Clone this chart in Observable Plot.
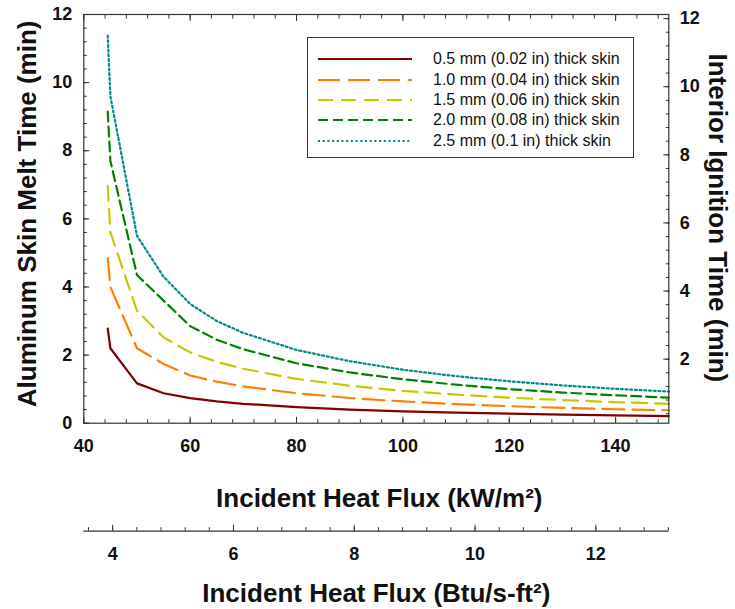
<!DOCTYPE html>
<html>
<head>
<meta charset="utf-8">
<script src="https://cdn.jsdelivr.net/npm/d3@7"></script>
<script src="https://cdn.jsdelivr.net/npm/@observablehq/plot@0.6"></script>
<style>
  body { margin: 0; background: #fff; font-family: "Liberation Sans", Arial, sans-serif; }
  #chart { position: relative; width: 735px; height: 609px; }
  .legend {
    position: absolute; left: 307px; top: 37px; width: 327px; height: 121px;
    box-sizing: border-box; border: 1px solid #333; background: #fff;
    padding-top: 11px;
  }
  .legend .row { display: flex; align-items: center; height: 20.4px; }
  .legend svg { margin-left: 10px; margin-right: 21px; flex: none; }
  .legend span { font-size: 16px; color: #111; white-space: nowrap; }
</style>
</head>
<body>
<div id="chart"></div>
<script>
// Incident heat flux (kW/m²) at which each curve is sampled
const flux = [44.5, 45, 50, 55, 60, 65, 70, 80, 90, 100, 110, 120, 130, 140, 150];

// Aluminum skin melt time (min) for each skin thickness
const skin05 = [2.78, 2.2, 1.17, 0.88, 0.735, 0.64, 0.57, 0.47, 0.4, 0.35, 0.31, 0.28, 0.25, 0.23, 0.21];
const skin10 = [4.85, 4.0, 2.2, 1.74, 1.4, 1.22, 1.08, 0.88, 0.74, 0.64, 0.56, 0.5, 0.45, 0.41, 0.38];
const skin15 = [6.97, 5.6, 3.3, 2.52, 2.08, 1.8, 1.6, 1.3, 1.1, 0.95, 0.84, 0.75, 0.68, 0.62, 0.57];
const skin20 = [9.15, 7.7, 4.35, 3.6, 2.85, 2.45, 2.17, 1.76, 1.49, 1.29, 1.13, 1.0, 0.9, 0.82, 0.75];
const skin25 = [11.38, 9.6, 5.5, 4.3, 3.5, 3.0, 2.65, 2.15, 1.82, 1.57, 1.38, 1.23, 1.11, 1.01, 0.93];

const seriesNames = [
  "0.5 mm (0.02 in) thick skin",
  "1.0 mm (0.04 in) thick skin",
  "1.5 mm (0.06 in) thick skin",
  "2.0 mm (0.08 in) thick skin",
  "2.5 mm (0.1 in) thick skin"
];
const seriesValues = [skin05, skin10, skin15, skin20, skin25];
const seriesColors = ["#7f0000", "#ff8000", "#c8c800", "#008000", "#008b8b"];
const seriesDash = [null, "22,8", "15,8", "10,5", "2,2.7"];

// Tick labels
const xTicks = [40, 60, 80, 100, 120, 140];
const yTicks = [0, 2, 4, 6, 8, 10, 12];
const btuTicks = [4, 6, 8, 10, 12];
const ignitionTicks = [2, 4, 6, 8, 10, 12];

// 1 Btu/s-ft² = 11.357 kW/m²
const KW_PER_BTU = 11.357;
// The ignition-time axis sits slightly below the melt-time axis
const IGNITION_OFFSET = 0.12;

const xDomain = [40, 150];
const yDomain = [0, 12];

const table = seriesNames.flatMap((name, s) =>
  flux.map((f, i) => ({series: name, flux: f, time: seriesValues[s][i]}))
);

const xMinor = d3.range(40, 150.01, 4);
const yMinor = d3.range(0, 12.01, 0.4);
const btuMinor = d3.range(3.6, 13.21, 0.4).map(b => b * KW_PER_BTU).filter(v => v >= 40 && v <= 150);
const ignitionMinor = d3.range(0.4, 12.01, 0.4).map(r => r - IGNITION_OFFSET);

const tickColor = "#333";
const major = 6, minor = 3.5;
const btuShift = 108;
const blank = () => "";
const labelFont = {fontSize: 18, fontWeight: "bold", fill: "#111", label: null};
const tickStyle = {tickFormat: blank, stroke: tickColor, label: null};
const titleFont = {text: d => d, fontSize: 26, fontWeight: "bold", fill: "#111", textAnchor: "middle", lineAnchor: "middle"};

const chart = Plot.plot({
  width: 735,
  height: 609,
  marginTop: 14,
  marginBottom: 186.3,
  marginLeft: 83.3,
  marginRight: 66.7,
  style: {fontFamily: "'Liberation Sans', Arial, sans-serif", background: "#fff", overflow: "visible"},
  x: {domain: xDomain, label: null},
  y: {domain: yDomain, label: null},
  marks: [
    // curves
    ...seriesNames.map((name, s) =>
      Plot.line(table.filter(d => d.series === name), {
        x: "flux", y: "time",
        stroke: seriesColors[s], strokeWidth: 2.2,
        strokeDasharray: seriesDash[s] ?? undefined
      })
    ),
    Plot.frame({stroke: tickColor, strokeWidth: 1.2}),

    // inward ticks on all four sides
    Plot.axisX(xTicks, {anchor: "bottom", tickSize: major, dy: -major, ...tickStyle}),
    Plot.axisX(xMinor, {anchor: "bottom", tickSize: minor, dy: -minor, ...tickStyle}),
    Plot.axisX(xTicks, {anchor: "top", tickSize: major, dy: major, ...tickStyle}),
    Plot.axisX(xMinor, {anchor: "top", tickSize: minor, dy: minor, ...tickStyle}),
    Plot.axisY(yTicks, {anchor: "left", tickSize: major, dx: major, ...tickStyle}),
    Plot.axisY(yMinor, {anchor: "left", tickSize: minor, dx: minor, ...tickStyle}),
    Plot.axisY(ignitionTicks.map(r => r - IGNITION_OFFSET), {anchor: "right", tickSize: major, dx: -major, ...tickStyle}),
    Plot.axisY(ignitionMinor, {anchor: "right", tickSize: minor, dx: -minor, ...tickStyle}),

    // tick labels
    Plot.axisX(xTicks, {anchor: "bottom", tickSize: 0, tickPadding: 16, ...labelFont}),
    Plot.axisY(yTicks, {anchor: "left", tickSize: 0, tickPadding: 11.5, ...labelFont}),
    Plot.axisY(ignitionTicks.map(r => r - IGNITION_OFFSET), {
      anchor: "right", tickSize: 0, tickPadding: 11, ...labelFont,
      tickFormat: v => String(Math.round(v + IGNITION_OFFSET))
    }),

    // secondary heat-flux axis in Btu/s-ft²
    Plot.ruleY([yDomain[0]], {dy: btuShift, stroke: tickColor, strokeWidth: 1.2}),
    Plot.axisX(btuTicks.map(b => b * KW_PER_BTU), {anchor: "bottom", tickSize: major, dy: btuShift - major, ...tickStyle}),
    Plot.axisX(btuMinor, {anchor: "bottom", tickSize: minor, dy: btuShift - minor, ...tickStyle}),
    Plot.axisX(btuTicks.map(b => b * KW_PER_BTU), {
      anchor: "bottom", tickSize: 0, tickPadding: 16, dy: btuShift, ...labelFont,
      tickFormat: v => String(Math.round(v / KW_PER_BTU))
    }),

    // axis titles
    Plot.text(["Aluminum Skin Melt Time (min)"], {frameAnchor: "left", dx: -56, dy: -5, rotate: -90, ...titleFont}),
    Plot.text(["Interior Ignition Time (min)"], {frameAnchor: "right", dx: 49, dy: -1, rotate: 90, ...titleFont}),
    Plot.text(["Incident Heat Flux (kW/m²)"], {frameAnchor: "bottom", dx: 3, dy: 75, ...titleFont}),
    Plot.text(["Incident Heat Flux (Btu/s-ft²)"], {frameAnchor: "bottom", dx: 0, dy: 170, ...titleFont})
  ]
});

const root = document.getElementById("chart");
root.appendChild(chart);

// legend box inside the plot area
const legend = document.createElement("div");
legend.className = "legend";
seriesNames.forEach((name, s) => {
  const row = document.createElement("div");
  row.className = "row";
  const sw = d3.create("svg").attr("width", 94).attr("height", 6);
  sw.append("line")
    .attr("x1", 0).attr("x2", 94).attr("y1", 3).attr("y2", 3)
    .attr("stroke", seriesColors[s]).attr("stroke-width", 2.2)
    .attr("stroke-dasharray", seriesDash[s]);
  row.appendChild(sw.node());
  const label = document.createElement("span");
  label.textContent = name;
  row.appendChild(label);
  legend.appendChild(row);
});
root.appendChild(legend);
</script>
</body>
</html>
